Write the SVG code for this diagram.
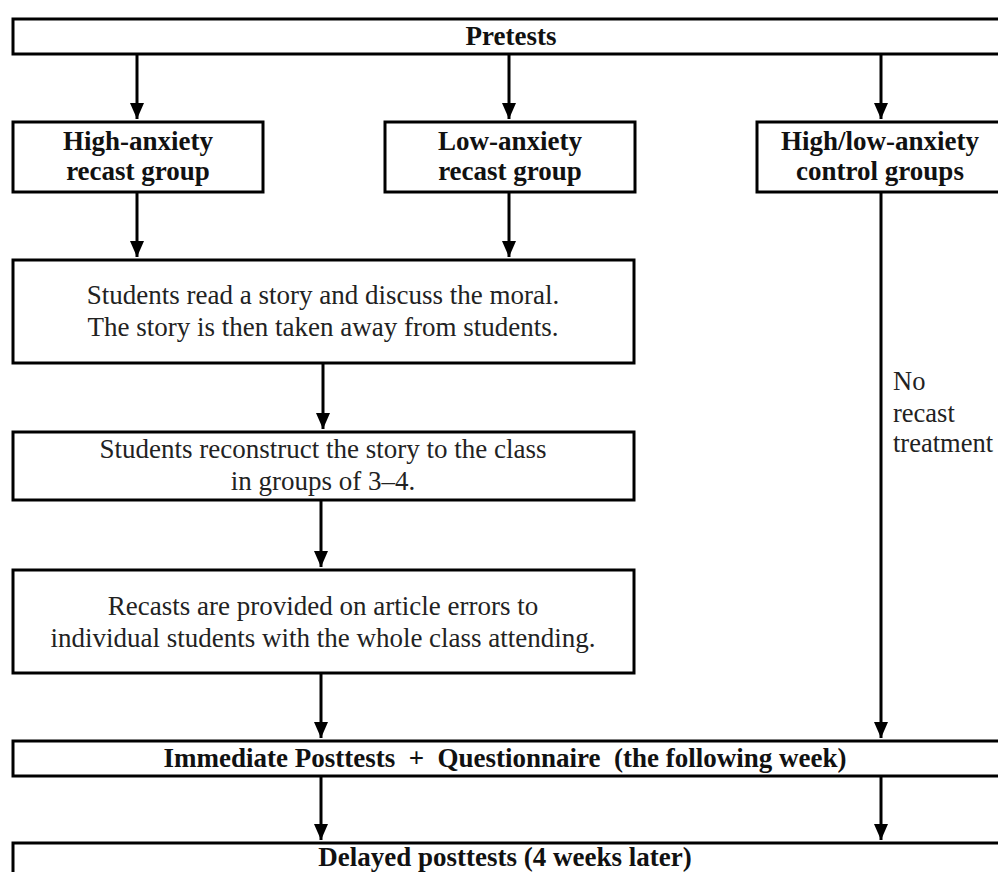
<svg xmlns="http://www.w3.org/2000/svg" width="998" height="872" viewBox="0 0 998 872">
<defs>
<marker id="ah" viewBox="0 0 16 14" refX="16" refY="7" markerWidth="16" markerHeight="14" markerUnits="userSpaceOnUse" orient="auto">
<path d="M0,0 L16,7 L0,14 Z" fill="#000"/>
</marker>
<style>
.box{fill:#fff;stroke:#000;stroke-width:3}
.b{font-family:"Liberation Serif","Times New Roman",serif;font-weight:bold;font-size:27px;fill:#111;text-anchor:middle}
.r{font-family:"Liberation Serif","Times New Roman",serif;font-size:27px;fill:#222;text-anchor:middle}
.l{font-family:"Liberation Serif","Times New Roman",serif;font-size:26.5px;fill:#222}
.c{stroke:#000;stroke-width:3;fill:none;marker-end:url(#ah)}
</style>
</defs>
<rect width="998" height="872" fill="#fff"/>
<g id="connectors">
<line class="c" x1="137" y1="54" x2="137" y2="119"/>
<line class="c" x1="509" y1="54" x2="509" y2="119"/>
<line class="c" x1="881" y1="54" x2="881" y2="119"/>
<line class="c" x1="137" y1="192" x2="137" y2="257"/>
<line class="c" x1="509" y1="192" x2="509" y2="257"/>
<line class="c" x1="323" y1="363" x2="323" y2="429"/>
<line class="c" x1="321" y1="500" x2="321" y2="567"/>
<line class="c" x1="321" y1="673" x2="321" y2="738"/>
<line class="c" x1="881" y1="192" x2="881" y2="738"/>
<line class="c" x1="321" y1="776" x2="321" y2="840"/>
<line class="c" x1="881" y1="776" x2="881" y2="840"/>
</g>
<g id="pretests">
<rect class="box" x="13" y="19" width="996" height="35"/>
<text class="b" x="511" y="45">Pretests</text>
</g>
<g id="high-anxiety">
<rect class="box" x="13" y="122" width="250" height="70"/>
<text class="b" x="138" y="150">High-anxiety</text>
<text class="b" x="138" y="180">recast group</text>
</g>
<g id="low-anxiety">
<rect class="box" x="385" y="122" width="250" height="70"/>
<text class="b" x="510" y="150">Low-anxiety</text>
<text class="b" x="510" y="180">recast group</text>
</g>
<g id="control">
<rect class="box" x="757" y="122" width="250" height="70"/>
<text class="b" x="880" y="150">High/low-anxiety</text>
<text class="b" x="880" y="180">control groups</text>
</g>
<g id="read-story">
<rect class="box" x="13" y="260" width="621" height="103"/>
<text class="r" x="323" y="304">Students read a story and discuss the moral.</text>
<text class="r" x="323" y="336">The story is then taken away from students.</text>
</g>
<g id="reconstruct">
<rect class="box" x="13" y="432" width="621" height="68"/>
<text class="r" x="323" y="458">Students reconstruct the story to the class</text>
<text class="r" x="323" y="490">in groups of 3–4.</text>
</g>
<g id="recasts">
<rect class="box" x="13" y="570" width="621" height="103"/>
<text class="r" x="323" y="615">Recasts are provided on article errors to</text>
<text class="r" x="323" y="647">individual students with the whole class attending.</text>
</g>
<g id="no-recast-label">
<text class="l" x="893" y="390">No</text>
<text class="l" x="893" y="422">recast</text>
<text class="l" x="893" y="452">treatment</text>
</g>
<g id="immediate">
<rect class="box" x="13" y="741" width="996" height="35"/>
<text class="b" x="505" y="767" xml:space="preserve">Immediate Posttests  +  Questionnaire  (the following week)</text>
</g>
<g id="delayed">
<rect class="box" x="13" y="843" width="996" height="40"/>
<text class="b" x="505" y="866">Delayed posttests (4 weeks later)</text>
</g>
</svg>
